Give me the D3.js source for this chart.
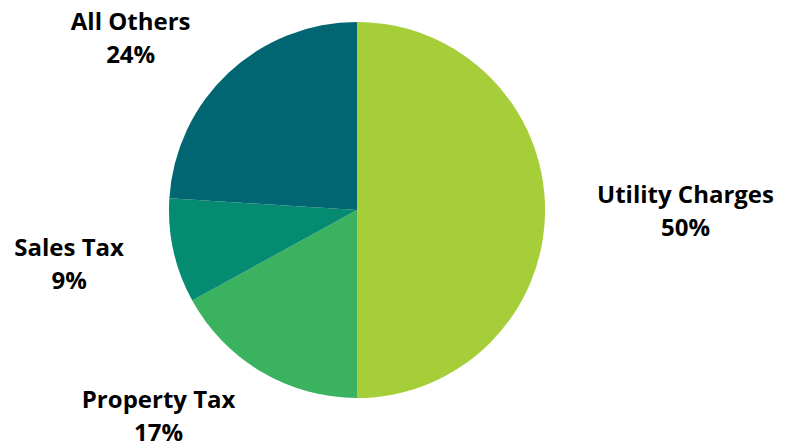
<!DOCTYPE html>
<html>
<head>
<meta charset="utf-8">
<script src="https://cdn.jsdelivr.net/npm/d3@7"></script>
<style>
  html, body { margin: 0; padding: 0; background: #fff; }
  text { font-family: "Open Sans", sans-serif; font-weight: 700; fill: #000; }
</style>
</head>
<body>
<svg id="chart" width="789" height="446"></svg>
<script>
"use strict";
// revenue share by source
const categories = ['Utility Charges', 'Property Tax', 'Sales Tax', 'All Others'];
const shares = [50, 17, 9, 24];
const colors = ['#a6ce39', '#3ab25f', '#058b71', '#026672'];

const width = 789, height = 446;
const cx = 357, cy = 210, radius = 188;
const gap = 52, fontSize = 24, lineGap = 33;
// manual label moves, like the hand placed ones in the original
const labelNudge = [[0, 0], [-37, -30], [0, -7], [-21, 26]];

const svg = d3.select('#chart');
const g = svg.append('g').attr('transform', `translate(${cx},${cy})`);

const pie = d3.pie().sort(null).value(d => d.value);
const arc = d3.arc().innerRadius(0).outerRadius(radius);

const data = pie(categories.map((c, i) => ({name: c, value: shares[i], color: colors[i]})));

g.selectAll('path')
  .data(data)
  .enter()
  .append('path')
  .attr('d', arc)
  .attr('fill', d => d.data.color);

const labels = g.selectAll('g.label')
  .data(data)
  .enter()
  .append('g')
  .attr('class', 'label');

labels.each(function (d, i) {
  const lab = d3.select(this);
  lab.append('text')
    .attr('text-anchor', 'middle')
    .style('font-size', fontSize + 'px')
    .attr('y', 0)
    .text(d.data.name);
  lab.append('text')
    .attr('text-anchor', 'middle')
    .style('font-size', fontSize + 'px')
    .attr('y', lineGap)
    .text(d3.format('.0f')(d.data.value) + '%');

  //box size decides how far out the label sits
  const box = this.getBBox();
  const a = (d.startAngle + d.endAngle) / 2;
  const sx = Math.sin(a), sy = -Math.cos(a);
  const px = (radius + gap) * sx + sx * box.width / 2;
  const py = (radius + gap) * sy + sy * box.height / 2;
  // move box center to (px, py)
  const bcx = box.x + box.width / 2, bcy = box.y + box.height / 2;
  lab.attr('transform', `translate(${px - bcx + labelNudge[i][0]},${py - bcy + labelNudge[i][1]})`);
});
</script>
</body>
</html>
